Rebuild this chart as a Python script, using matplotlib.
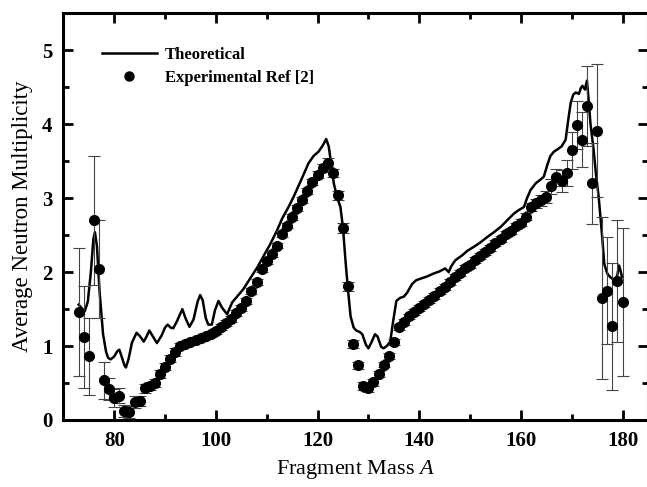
import matplotlib
matplotlib.use("Agg")
import matplotlib.pyplot as plt
from matplotlib.ticker import MultipleLocator
from matplotlib.lines import Line2D

plt.rcParams['font.family'] = ['Liberation Serif', 'DejaVu Serif']
plt.rcParams['mathtext.fontset'] = 'custom'
plt.rcParams['mathtext.rm'] = 'Liberation Serif'
plt.rcParams['mathtext.it'] = 'Liberation Serif:italic'

# Experimental data (fragment mass, multiplicity, error)
exp_A = list(range(73, 181))
exp_v = [1.46, 1.12, 0.86, 2.70, 2.04, 0.54, 0.42, 0.30, 0.33, 0.12,
         0.11, 0.24, 0.26, 0.43, 0.46, 0.50, 0.62, 0.72, 0.83, 0.92,
         1.00, 1.03, 1.06, 1.08, 1.11, 1.14, 1.16, 1.20, 1.26, 1.31,
         1.37, 1.45, 1.52, 1.61, 1.74, 1.87, 2.04, 2.15, 2.25, 2.36,
         2.51, 2.63, 2.75, 2.87, 2.97, 3.10, 3.22, 3.32, 3.41, 3.48,
         3.34, 3.04, 2.60, 1.81, 1.03, 0.74, 0.46, 0.43, 0.51, 0.62,
         0.75, 0.87, 1.05, 1.26, 1.32, 1.40, 1.46, 1.51, 1.57, 1.62,
         1.68, 1.74, 1.80, 1.87, 1.93, 1.99, 2.05, 2.10, 2.16, 2.22,
         2.27, 2.33, 2.39, 2.45, 2.51, 2.56, 2.62, 2.67, 2.75, 2.88,
         2.93, 2.97, 3.02, 3.16, 3.28, 3.23, 3.34, 3.65, 3.99, 3.79,
         4.25, 3.20, 3.91, 1.65, 1.75, 1.27, 1.88, 1.60]
exp_err = [0.87, 0.69, 0.52, 0.87, 0.66, 0.25, 0.15, 0.12, 0.10, 0.08,
           0.08, 0.08, 0.07, 0.06, 0.06, 0.06, 0.05, 0.05, 0.05, 0.05,
           0.04, 0.04, 0.04, 0.04, 0.04, 0.04, 0.04, 0.04, 0.04, 0.04,
           0.04, 0.04, 0.04, 0.04, 0.04, 0.04, 0.04, 0.04, 0.04, 0.04,
           0.04, 0.04, 0.04, 0.04, 0.04, 0.04, 0.04, 0.05, 0.05, 0.06,
           0.06, 0.06, 0.07, 0.06, 0.05, 0.05, 0.05, 0.05, 0.05, 0.04,
           0.04, 0.04, 0.04, 0.04, 0.04, 0.04, 0.04, 0.04, 0.04, 0.04,
           0.04, 0.04, 0.04, 0.04, 0.04, 0.04, 0.04, 0.04, 0.04, 0.04,
           0.04, 0.04, 0.04, 0.04, 0.04, 0.04, 0.04, 0.05, 0.05, 0.06,
           0.06, 0.07, 0.08, 0.10, 0.12, 0.15, 0.18, 0.25, 0.32, 0.37,
           0.54, 0.55, 0.90, 1.10, 0.72, 0.86, 0.83, 1.00]

# Theoretical curve
th_A = [73.0, 73.5, 74.2, 74.8, 75.4, 75.9, 76.2, 76.6, 77.1, 77.8,
        78.4, 78.8, 79.3, 80.0, 80.6, 81.0, 81.5, 82.0, 82.3, 82.8,
        83.5, 84.4, 85.1, 85.8, 86.3, 86.9, 87.6, 88.4, 89.3, 90.0,
        90.5, 91.1, 91.6, 92.3, 93.4, 94.0, 94.8, 95.6, 96.4, 96.9,
        97.4, 98.0, 98.5, 99.2, 99.8, 100.5, 101.2, 102.2, 103.2, 104.3,
        105.4, 106.8, 108.1, 109.4, 110.7, 112.0, 113.0, 114.2, 115.3, 116.8,
        118.2, 119.2, 120.2, 121.0, 121.7, 122.2, 122.6, 123.2, 123.8, 124.5,
        125.0, 125.5, 126.0, 126.5, 127.1, 127.6, 128.3, 128.8, 129.5, 130.0,
        130.6, 131.3, 131.8, 132.5, 133.0, 133.6, 134.3, 134.9, 135.5, 136.2,
        137.0, 137.6, 138.6, 139.4, 140.2, 141.5, 142.8, 144.0, 145.1, 145.8,
        146.3, 147.1, 148.5, 149.5, 150.7, 152.0, 153.3, 154.7, 156.0, 157.3,
        158.6, 159.6, 160.6, 161.2, 161.9, 162.9, 164.0, 164.5, 165.2, 165.8,
        166.5, 167.2, 168.0, 168.8, 169.3, 169.8, 170.3, 170.8, 171.4, 171.8,
        172.1, 172.6, 173.0, 173.3, 173.7, 174.3, 174.8, 175.3, 176.0, 176.4,
        177.0, 177.6, 178.6, 179.0, 179.3, 179.6, 179.9]
th_v = [1.56, 1.52, 1.47, 1.60, 2.00, 2.45, 2.54, 2.35, 1.75, 1.16,
        0.92, 0.84, 0.82, 0.86, 0.93, 0.95, 0.85, 0.74, 0.71, 0.82,
        1.05, 1.18, 1.13, 1.06, 1.12, 1.21, 1.13, 1.04, 1.14, 1.25,
        1.29, 1.25, 1.24, 1.33, 1.50, 1.38, 1.26, 1.36, 1.60, 1.69,
        1.62, 1.38, 1.29, 1.29, 1.48, 1.61, 1.52, 1.43, 1.59, 1.68,
        1.77, 1.92, 2.06, 2.22, 2.38, 2.56, 2.72, 2.87, 3.02, 3.25,
        3.47, 3.57, 3.63, 3.71, 3.80, 3.70, 3.50, 3.20, 3.02, 2.88,
        2.60, 2.15, 1.75, 1.40, 1.25, 1.21, 1.19, 1.16, 1.02, 0.97,
        1.05, 1.16, 1.13, 0.99, 0.97, 1.00, 1.06, 1.35, 1.61, 1.65,
        1.67, 1.72, 1.84, 1.89, 1.91, 1.94, 1.98, 2.01, 2.05, 2.00,
        2.08, 2.16, 2.23, 2.29, 2.34, 2.40, 2.47, 2.54, 2.61, 2.70,
        2.79, 2.84, 2.88, 3.00, 3.11, 3.20, 3.26, 3.29, 3.45, 3.57,
        3.63, 3.66, 3.70, 3.79, 4.05, 4.29, 4.40, 4.43, 4.41, 4.49,
        4.52, 4.47, 4.59, 4.35, 4.00, 3.66, 3.30, 3.02, 2.47, 2.11,
        1.98, 1.93, 1.88, 1.97, 2.09, 2.02, 1.93]

x_ticks = [80, 100, 120, 140, 160, 180]
y_ticks = [0, 1, 2, 3, 4, 5]

fig = plt.figure(figsize=(6.47, 4.87), dpi=100)
ax = fig.add_axes([0.098, 0.1376, 0.9035, 0.835])

ax.plot(th_A, th_v, color='black', lw=1.8, zorder=3)
ax.errorbar(exp_A, exp_v, yerr=exp_err, fmt='o', color='black', ms=7,
            ecolor='#444444', elinewidth=0.8, capsize=4, capthick=0.8, zorder=4)

ax.set_xlim(70, 185)
ax.set_ylim(0, 5.5)
ax.set_xticks(x_ticks)
ax.set_yticks(y_ticks)
ax.xaxis.set_minor_locator(MultipleLocator(10))
ax.yaxis.set_minor_locator(MultipleLocator(0.5))
ax.tick_params(which='both', direction='in', top=True, right=True, width=2)
ax.tick_params(which='major', length=7, labelsize=15, pad=8)
ax.tick_params(which='minor', length=4)
for lab in ax.get_xticklabels() + ax.get_yticklabels():
    lab.set_fontweight('bold')
for sp in ax.spines.values():
    sp.set_linewidth(2.2)

ax.set_xlabel('Fragment Mass $\\mathit{A}$', fontsize=16, labelpad=5)
ax.set_ylabel('Average Neutron Multiplicity', fontsize=16.5, labelpad=6)

handles = [Line2D([], [], color='black', lw=1.8),
           Line2D([], [], color='black', marker='o', ls='none', ms=6.5)]
ax.legend(handles, ['Theoretical', 'Experimental Ref [2]'], loc='upper left',
          bbox_to_anchor=(0.04, 0.955), frameon=False, handlelength=3.3,
          handletextpad=0.5, labelspacing=0.45, prop={'weight': 'bold', 'size': 12})

fig.savefig('out.png', dpi=100)
